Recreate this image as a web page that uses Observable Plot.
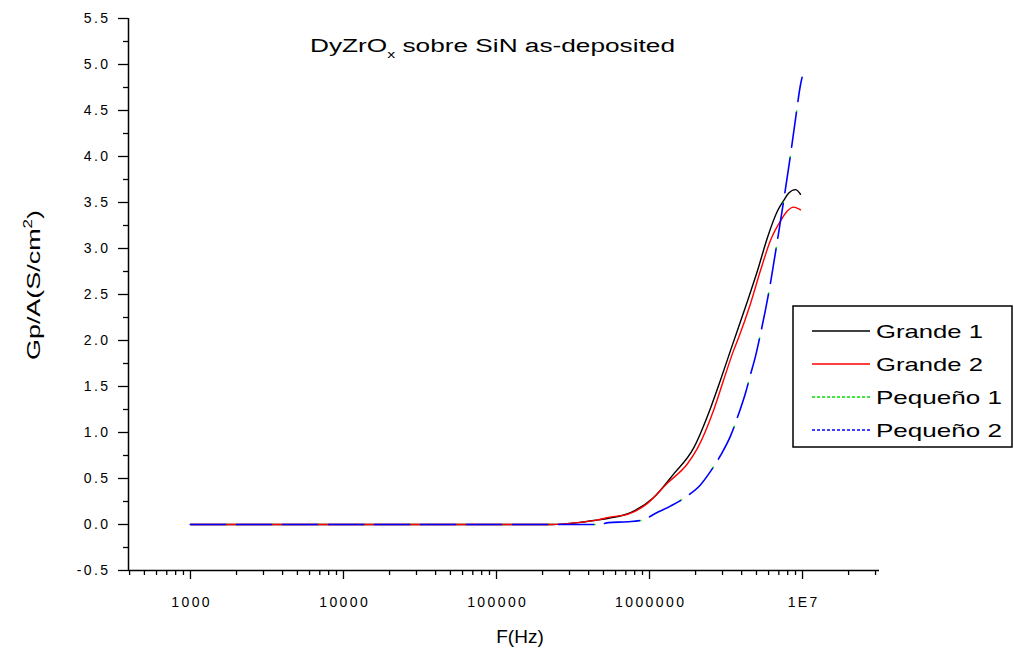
<!DOCTYPE html>
<html><head><meta charset="utf-8">
<script src="https://cdn.jsdelivr.net/npm/d3@7"></script>
<script src="https://cdn.jsdelivr.net/npm/@observablehq/plot@0.6"></script>
<style>body{margin:0;background:#fff}svg{display:block}</style>
</head><body><div id="chart"></div>
<script>
// Frequencies (Hz) and Gp/A values (S/cm^2)
const freqGrande1 = [1000, 1e4, 1e5, 2.3e5, 3.4e5, 4.6e5, 5.5e5, 7.52e5, 1.06e6, 1.44e6, 1.94e6, 2.51e6, 2.91e6, 3.38e6, 4.37e6, 5.08e6, 5.9e6, 6.87e6, 7.52e6, 8.1e6, 9.0e6, 9.7e6];
const gpGrande1   = [0, 0, 0, 0, 0.02, 0.05, 0.07, 0.13, 0.29, 0.55, 0.83, 1.27, 1.57, 1.89, 2.43, 2.76, 3.12, 3.41, 3.52, 3.60, 3.64, 3.59];

const freqGrande2 = [1000, 1e4, 1e5, 2.3e5, 3.4e5, 4.6e5, 5.5e5, 7.2e5, 9.7e5, 1.31e6, 1.77e6, 2.06e6, 2.62e6, 3.05e6, 3.54e6, 3.82e6, 4.57e6, 5.31e6, 6.18e6, 7.18e6, 7.98e6, 8.73e6, 9.7e6];
const gpGrande2   = [0, 0, 0, 0, 0.02, 0.05, 0.08, 0.11, 0.23, 0.45, 0.66, 0.83, 1.24, 1.57, 1.89, 2.03, 2.40, 2.76, 3.09, 3.30, 3.41, 3.45, 3.42];

const freqPequeno1 = [1000, 1e4, 1e5, 2.3e5, 4.6e5, 5.4e5, 7.2e5, 9.1e5, 1.09e6, 1.37e6, 1.8e6, 2.15e6, 2.51e6, 2.91e6, 3.38e6, 3.82e6, 4.24e6, 4.57e6, 4.93e6, 5.31e6, 5.72e6, 6.18e6, 6.66e6, 7.18e6, 7.74e6, 8.35e6, 9.0e6, 9.7e6, 9.93e6];
const gpPequeno1   = [0, 0, 0, 0, 0, 0.02, 0.03, 0.05, 0.12, 0.20, 0.32, 0.43, 0.58, 0.75, 0.96, 1.20, 1.43, 1.63, 1.83, 2.07, 2.33, 2.63, 2.96, 3.30, 3.65, 4.02, 4.41, 4.78, 4.86];

const freqPequeno2 = [1000, 1e4, 1e5, 2.3e5, 4.6e5, 5.4e5, 7.2e5, 9.1e5, 1.09e6, 1.37e6, 1.8e6, 2.15e6, 2.51e6, 2.91e6, 3.38e6, 3.82e6, 4.24e6, 4.57e6, 4.93e6, 5.31e6, 5.72e6, 6.18e6, 6.66e6, 7.18e6, 7.74e6, 8.35e6, 9.0e6, 9.7e6, 9.93e6];
const gpPequeno2   = [0, 0, 0, 0, 0, 0.02, 0.03, 0.05, 0.12, 0.20, 0.32, 0.43, 0.58, 0.75, 0.96, 1.20, 1.43, 1.63, 1.83, 2.07, 2.33, 2.63, 2.96, 3.30, 3.65, 4.02, 4.41, 4.78, 4.86];

const seriesNames = ["Grande 1", "Grande 2", "Pequeño 1", "Pequeño 2"];
const seriesColors = ["#000000", "#ff0000", "#00e000", "#0000ff"];

const xTickValues = [1e3, 1e4, 1e5, 1e6, 1e7];
const xTickLabels = ["1000", "10000", "100000", "1000000", "1E7"];
const yTickValues = [-0.5, 0, 0.5, 1, 1.5, 2, 2.5, 3, 3.5, 4, 4.5, 5, 5.5];
const yTickLabels = ["-0.5", "0.0", "0.5", "1.0", "1.5", "2.0", "2.5", "3.0", "3.5", "4.0", "4.5", "5.0", "5.5"];

const titleMain = "DyZrO";
const titleSub = "x";
const titleRest = " sobre SiN as-deposited";
const xLabel = "F(Hz)";
const yLabel = "Gp/A(S/cm";

const toRows = (f, v, name) => f.map((d, i) => ({f: d, v: v[i], series: name}));
const rowsG1 = toRows(freqGrande1, gpGrande1, seriesNames[0]);
const rowsG2 = toRows(freqGrande2, gpGrande2, seriesNames[1]);
const rowsP1 = toRows(freqPequeno1, gpPequeno1, seriesNames[2]);
const rowsP2 = toRows(freqPequeno2, gpPequeno2, seriesNames[3]);

const xDomain = [10 ** 2.595, 10 ** 7.503];
const xMinor = [];
for (const dec of [100, 1e3, 1e4, 1e5, 1e6, 1e7]) for (let m = 2; m <= 9; m++) {
  const t = dec * m; if (t >= xDomain[0] && t <= xDomain[1]) xMinor.push(t);
}
const yMinor = yTickValues.slice(0, -1).map(d => d + 0.25);

const font = "'Liberation Sans', Arial, sans-serif";

const chart = Plot.plot({
  width: 1014, height: 655,
  marginLeft: 128, marginRight: 135, marginTop: 18, marginBottom: 85,
  x: {type: "log", domain: xDomain},
  y: {domain: [-0.5, 5.5]},
  style: {fontFamily: font, fontSize: "14px", color: "#000", background: "#fff"},
  marks: [
    Plot.axisY(yMinor, {tickSize: 5, tickFormat: () => "", label: null, strokeWidth: 1.3}),
    Plot.axisY(yTickValues, {tickSize: 10, tickPadding: 8, tickFormat: d => yTickLabels[yTickValues.indexOf(d)], label: null, strokeWidth: 1.3, fontSize: 14}),
    Plot.axisX(xMinor, {tickSize: 5, tickFormat: () => "", label: null, strokeWidth: 1.3}),
    Plot.axisX(xTickValues, {tickSize: 9, tickPadding: 18, tickFormat: d => xTickLabels[xTickValues.indexOf(d)], label: null, strokeWidth: 1.3, fontSize: 14}),
    Plot.ruleX([xDomain[0]], {stroke: "#000", strokeWidth: 1.5}),
    Plot.ruleY([-0.5], {stroke: "#000", strokeWidth: 1.5}),
    Plot.line(rowsG1, {x: "f", y: "v", stroke: seriesColors[0], strokeWidth: 1.4, curve: "monotone-x"}),
    Plot.line(rowsP1, {x: "f", y: "v", stroke: seriesColors[2], strokeWidth: 1.5, curve: "monotone-x", strokeDasharray: "1.5,44.5", strokeDashoffset: -35}),
    Plot.line(rowsG2, {x: "f", y: "v", stroke: seriesColors[1], strokeWidth: 1.4, curve: "monotone-x"}),
    Plot.line(rowsP2, {x: "f", y: "v", stroke: seriesColors[3], strokeWidth: 1.6, curve: "monotone-x", strokeDasharray: "35,11"})
  ]
});
document.getElementById("chart").appendChild(chart);

const svg = d3.select(chart);
svg.selectAll("g[aria-label='y-axis tick label'] text, g[aria-label='x-axis tick label'] text").style("letter-spacing", "2.4px");
svg.selectAll("g[aria-label='x-axis tick label'] text").attr("dx", 1.2);

// Title
const t = svg.append("text").attr("x", 310).attr("y", 52).attr("text-anchor", "start").attr("font-family", font).attr("font-size", 18).attr("fill", "#000")
  .attr("textLength", 365).attr("lengthAdjust", "spacingAndGlyphs");
t.append("tspan").text(titleMain);
t.append("tspan").attr("dy", 6).attr("font-size", 11).text(titleSub);
t.append("tspan").attr("dy", -6).text(titleRest);

// X label
svg.append("text").attr("x", 520).attr("y", 643).attr("text-anchor", "middle").attr("font-family", font).attr("font-size", 19).text(xLabel);

// Y label
const yl = svg.append("text").attr("transform", "translate(40,285) rotate(-90)").attr("text-anchor", "middle")
  .attr("font-family", font).attr("font-size", 19).attr("textLength", 150).attr("lengthAdjust", "spacingAndGlyphs");
yl.append("tspan").text(yLabel);
yl.append("tspan").attr("dy", -8).attr("font-size", 12).text("2");
yl.append("tspan").attr("dy", 8).text(")");

// Legend
const lg = svg.append("g");
lg.append("rect").attr("x", 793).attr("y", 306).attr("width", 219).attr("height", 141).attr("fill", "#fff").attr("stroke", "#000").attr("stroke-width", 1.5);
const rowY = [331, 364, 397, 430];
const dashes = [null, null, "3,2", "3,2"];
seriesNames.forEach((name, i) => {
  lg.append("line").attr("x1", 812).attr("x2", 870).attr("y1", rowY[i]).attr("y2", rowY[i])
    .attr("stroke", seriesColors[i]).attr("stroke-width", 1.5).attr("stroke-dasharray", dashes[i]);
  lg.append("text").attr("x", 876).attr("y", rowY[i] + 7).attr("text-anchor", "start").attr("font-family", font).attr("font-size", 19)
    .attr("textLength", name.startsWith("Grande") ? 107 : 126).attr("lengthAdjust", "spacingAndGlyphs").text(name);
});
</script></body></html>
